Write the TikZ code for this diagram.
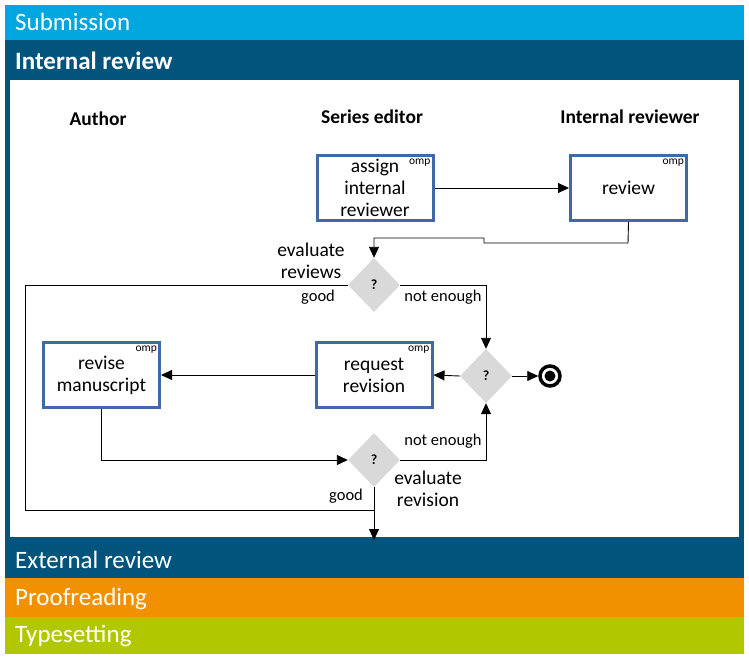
\documentclass[tikz,border=0pt]{standalone}
\usepackage{fontspec}
\setmainfont{Carlito}
\usetikzlibrary{shapes.geometric,arrows.meta}
\definecolor{submc}{HTML}{00A6DE}
\definecolor{darkc}{HTML}{02547D}
\definecolor{proofc}{HTML}{F29100}
\definecolor{typec}{HTML}{B1C800}
\definecolor{taskblue}{HTML}{4169A5}
\definecolor{gategray}{HTML}{D9D9D9}
\begin{document}
\begin{tikzpicture}[x=1pt,y=-1pt,
  task/.style={draw=taskblue, line width=3pt, fill=white, minimum width=116pt, minimum height=65pt, align=center, inner sep=2pt, font=\fontsize{19.5}{22}\selectfont},
  gate/.style={diamond, fill=gategray, minimum width=52pt, minimum height=54pt, inner sep=0pt, font=\bfseries\fontsize{14}{14}\selectfont},
  flow/.style={-{Triangle[length=11pt,width=10pt]}, line width=0.9pt},
  plain/.style={line width=0.9pt},
  lbl/.style={font=\fontsize{16.5}{18}\selectfont, inner sep=0pt},
  lbltwo/.style={font=\fontsize{19.5}{22}\selectfont, align=center, inner sep=0pt},
  omp/.style={font=\fontsize{11.5}{11.5}\selectfont, inner sep=0pt, anchor=north east},
  band/.style={anchor=west, text=white, inner sep=0pt, font=\fontsize{25}{27}\selectfont},
  lane/.style={font=\bfseries\fontsize{19.5}{21}\selectfont, inner sep=0pt}
]
\useasboundingbox (0,0) rectangle (749,659);
\fill[white] (0,0) rectangle (749,659);
% bands
\fill[submc] (5,5) rectangle (744,40);
\fill[darkc] (5,40) rectangle (744,540);
\fill[white] (10,80) rectangle (739,537);
\fill[darkc] (5,540) rectangle (744,578);
\fill[proofc] (5,578) rectangle (744,617);
\fill[typec] (5,617) rectangle (744,654);
\node[band] (bsub) at (15,22) {Submission};
\node[band, font=\bfseries\fontsize{25}{27}\selectfont] (bint) at (15,61) {Internal review};
\node[band] (bext) at (15,560) {External review};
\node[band] (bproof) at (15,599) {Proofreading};
\node[band] (btype) at (15,636) {Typesetting};
% lanes
\node[lane] (lauthor) at (98,119) {Author};
\node[lane] (lseries) at (372,117) {Series editor};
\node[lane] (lintrev) at (630,117) {Internal reviewer};
% tasks
\node[task] (assign) at (375,188) {assign\\internal\\reviewer};
\node[task] (review) at (628.5,188) {review};
\node[task] (request) at (374,375) {request\\revision};
\node[task] (revise) at (101.5,375) {revise\\manuscript};
\node[omp] (o1) at ([shift={(-4,5)}]assign.north east) {omp};
\node[omp] (o2) at ([shift={(-4,5)}]review.north east) {omp};
\node[omp] (o3) at ([shift={(-4,5)}]request.north east) {omp};
\node[omp] (o4) at ([shift={(-4,5)}]revise.north east) {omp};
% gates
\node[gate] (g1) at (374,285) {?};
\node[gate] (g2) at (486,376) {?};
\node[gate] (g3) at (374,460) {?};
% end
\node[circle, draw=black, line width=3.5pt, minimum size=20pt, inner sep=0pt] (endn) at (550,376) {};
\fill[black] (endn.center) circle (5.5pt);
% coordinates
\coordinate (c1) at (628,243);
\coordinate (c2) at (484,243);
\coordinate (c3) at (484,238);
\coordinate (c4) at (374,238);
\coordinate (c5) at (25,285);
\coordinate (c6) at (25,510);
\coordinate (c7) at (374,510);
\coordinate (c8) at (486,285);
\coordinate (c9) at (101.5,460);
\coordinate (c10) at (486,460);
\coordinate (cext) at (374,540);
% connectors
\draw[flow] (assign.east) -- (review.west);
\draw[flow] (review.south) -- (c1) -- (c2) -- (c3) -- (c4) -- (g1.north);
\draw[plain] (g1.west) -- (c5) -- (c6) -- (c7);
\draw[flow] (g1.east) -- (c8) -- (g2.north);
\draw[flow] (g2.west) -- (request.east);
\draw[flow] (g2.east) -- (endn.west);
\draw[flow] (request.west) -- (revise.east);
\draw[flow] (revise.south) -- (c9) -- (g3.west);
\draw[flow] (g3.east) -- (c10) -- (g2.south);
\draw[flow] (g3.south) -- (cext);
% labels
\node[lbltwo] (t1) at (311,261) {evaluate\\reviews};
\node[lbl] (t2) at (318,297) {good};
\node[lbl] (t3) at (443,297) {not enough};
\node[lbl] (t4) at (443,441) {not enough};
\node[lbl] (t5) at (346,496) {good};
\node[lbltwo] (t6) at (428,489) {evaluate\\revision};
\end{tikzpicture}
\end{document}
